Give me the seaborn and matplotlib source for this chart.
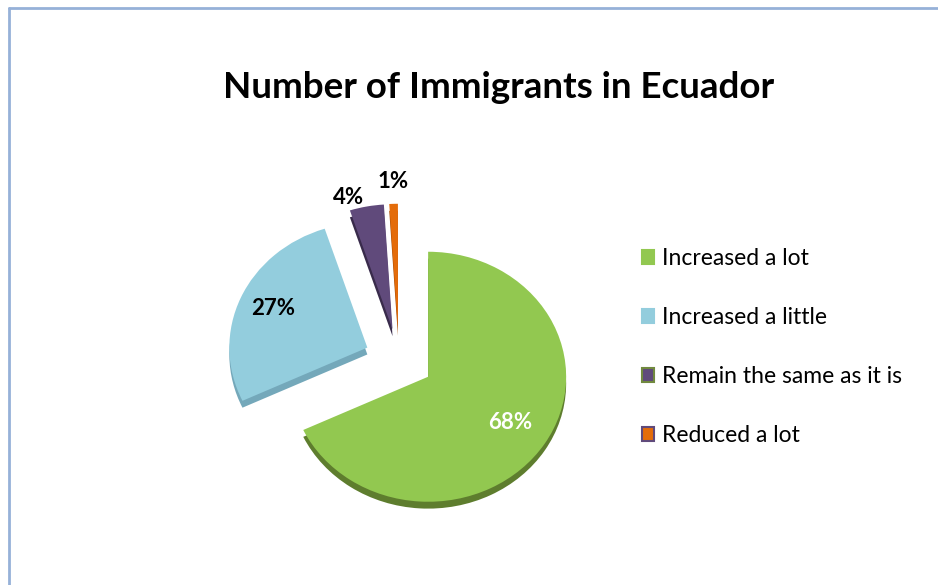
import matplotlib
matplotlib.use("Agg")
import matplotlib.pyplot as plt
from matplotlib.lines import Line2D
import numpy as np
import seaborn as sns

# Survey answers and their shares (%)
categories = ["Increased a lot", "Increased a little", "Remain the same as it is", "Reduced a lot"]
shares = [68, 27, 4, 1]

# Top faces, side faces (depth) and legend swatch outlines
face_colors = ["#92c850", "#93cddd", "#604a7b", "#e46c0a"]
side_colors = ["#5e7d2e", "#74a8ba", "#392b4b", "#a34b06"]
swatch_edges = ["#92c850", "#93cddd", "#71893f", "#604a7b"]
label_colors = ["white", "black", "black", "black"]

sns.set_theme(style="white")
plt.rcParams["font.family"] = ["Lato", "DejaVu Sans"]
plt.rcParams["text.color"] = "black"

W, H = 938, 585
fig = plt.figure(figsize=(W / 100, H / 100), dpi=100)
fig.patch.set_facecolor("white")

# Pie centre in pixels and pixels per unit radius (slightly flattened vertically)
cx, cy = 399, 360
rx, ry = 138, 125
xl, yl = 2.0, 1.7
ax = fig.add_axes([(cx - xl * rx) / W, (H - cy - yl * ry) / H,
                   2 * xl * rx / W, 2 * yl * ry / H])

explode = [0.25] * len(shares)
depth = 0.055

# Side faces: same pie pushed down a little, drawn underneath
ax.pie(shares, explode=explode, colors=side_colors, startangle=90,
       counterclock=False, center=(0, -depth),
       wedgeprops=dict(linewidth=0))
wedges, _, autotexts = ax.pie(
    shares, explode=explode, colors=face_colors, startangle=90,
    counterclock=False, autopct=lambda p: f"{p:.0f}%",
    wedgeprops=dict(linewidth=0))

ax.set_aspect("auto")
ax.set_xlim(-xl, xl)
ax.set_ylim(-yl, yl)
ax.axis("off")

# Percentage labels
label_dist = [0.70, 0.75, 1.10, 1.18]
label_turn = [1.0, -1.5, 6.0, 0.0]
for w, t, d, turn, c in zip(wedges, autotexts, label_dist, label_turn, label_colors):
    mid = np.deg2rad((w.theta1 + w.theta2) / 2 + turn)
    x0, y0 = w.center
    t.set_position((x0 + d * w.r * np.cos(mid), y0 + d * w.r * np.sin(mid)))
    t.set_color(c)
    t.set_fontsize(16)
    t.set_fontweight("bold")

# Legend
leg = fig.legend(wedges, categories, loc="center left",
                 bbox_to_anchor=(642 / W, 1 - 347 / H), frameon=False,
                 fontsize=16.5, handlelength=0.54, handleheight=0.54,
                 handletextpad=0.35, labelspacing=1.66, borderpad=0,
                 borderaxespad=0)
for patch, ec in zip(leg.get_patches(), swatch_edges):
    patch.set_edgecolor(ec)
    patch.set_linewidth(1.5)
for txt in leg.get_texts():
    txt.set_color("black")

fig.text(498.5 / W, 1 - 87 / H, "Number of Immigrants in Ecuador",
         ha="center", va="center", fontsize=26.5, fontweight="bold", color="black")

# Chart area outline (left and top edges)
border = "#96b1d8"
fig.add_artist(Line2D([9 / W, 9 / W], [0, 1 - 8 / H], transform=fig.transFigure,
                      color=border, lw=2))
fig.add_artist(Line2D([9 / W, 1], [1 - 8 / H, 1 - 8 / H], transform=fig.transFigure,
                      color=border, lw=2))

fig.savefig("out.png", dpi=100)
